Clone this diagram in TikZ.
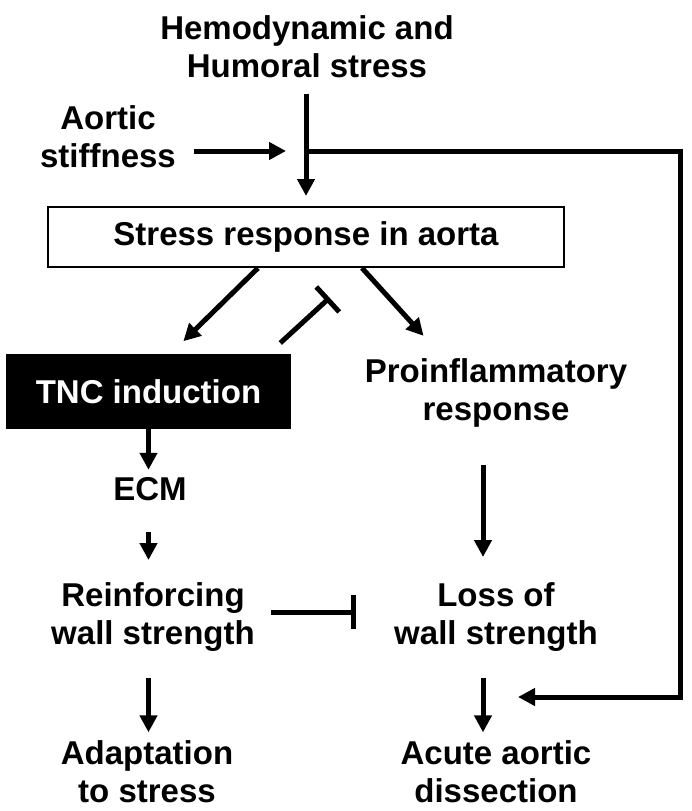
\documentclass[tikz,border=0pt]{standalone}
\usepackage{fontspec}
\setmainfont{Liberation Sans}
\usetikzlibrary{arrows.meta}
\newcommand\lblfont{\fontsize{33}{38}\selectfont\bfseries}
\tikzset{
  lbl/.style={align=center, font=\lblfont},
  arr/.style={line width=5pt, -{Triangle[length=17pt,width=17pt]}},
  inh/.style={line width=5pt, -{Bar[width=34pt]}},
}

\begin{document}
\begin{tikzpicture}[x=1pt,y=-1pt]
\useasboundingbox (0,0) rectangle (692,811);

\node[lbl] (hemo) at (307,47) {Hemodynamic and\\Humoral stress};
\node[lbl] (aortic) at (108,137) {Aortic\\stiffness};
\node[lbl, draw, line width=2pt, minimum width=516pt, minimum height=60pt] (resp) at (306,237) {Stress response in aorta};
\node[lbl, fill=black, text=white, minimum width=285pt, minimum height=75pt] (tnc) at (148.5,391.5) {TNC induction};
\node[lbl] (proinf) at (496,393) {Proinflammatory\\response};
\node[lbl] (ecm) at (150,489) {ECM};
\node[lbl] (reinf) at (153,617) {Reinforcing\\wall strength};
\node[lbl] (loss) at (496,617) {Loss of\\wall strength};
\node[lbl] (adapt) at (147,772) {Adaptation\\to stress};
\node[lbl] (acute) at (496,772) {Acute aortic\\dissection};

\coordinate (junc) at (306,151);
\coordinate (fbtop) at (680,151);
\coordinate (fbend) at (518,697);

\draw[arr, shorten <=12pt, shorten >=10pt] (hemo.south -| resp.north) -- (resp.north);
\draw[arr, shorten <=15pt, shorten >=20pt] (aortic.east |- junc) -- (junc);
\draw[arr, line cap=rect] (junc) -- (fbtop) |- (fbend);

\draw[arr, shorten >=18pt] ([xshift=-48pt]resp.south) -- ([xshift=22pt]tnc.north);
\draw[inh, shorten <=16pt, shorten >=44pt] ([xshift=120pt]tnc.north) -- ([xshift=56pt]resp.south);
\draw[arr, shorten >=26pt] ([xshift=56pt]resp.south) -- ([xshift=-55pt]proinf.north);

\draw[arr, shorten >=4pt] (tnc.south) -- (tnc.south |- ecm.north);
\draw[arr, shorten <=28pt, shorten >=19pt] (ecm.south -| tnc.south) -- (tnc.south |- reinf.north);
\draw[arr, shorten <=34pt, shorten >=22pt] ([xshift=-13pt]proinf.south) -- ([xshift=-13pt]loss.north);
\draw[inh, shorten <=13pt, shorten >=35pt] ([yshift=5pt]reinf.east) -- ([yshift=5pt]loss.west);
\draw[arr, shorten <=23pt, shorten >=5pt] (reinf.south -| tnc.south) -- (tnc.south |- adapt.north);
\draw[arr, shorten <=23pt, shorten >=5pt] ([xshift=-13pt]loss.south) -- ([xshift=-13pt]acute.north);
\end{tikzpicture}
\end{document}
